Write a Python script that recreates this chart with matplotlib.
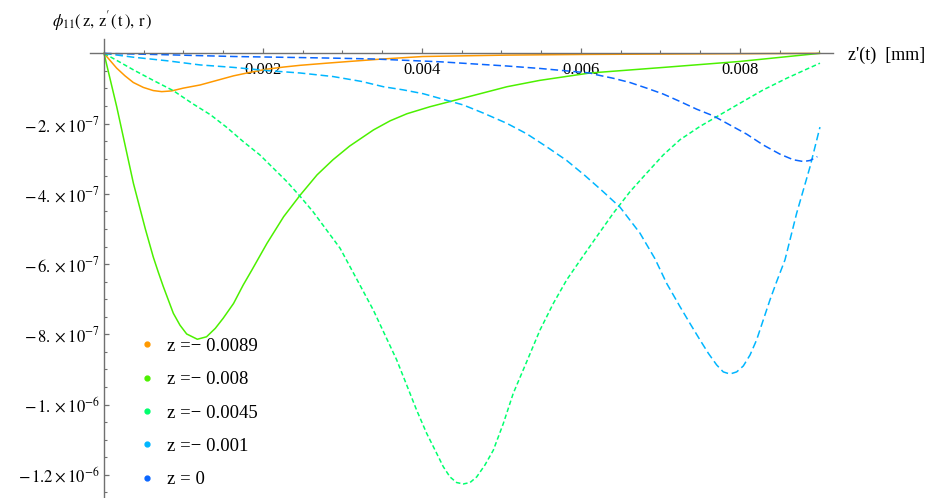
import numpy as np
import matplotlib
matplotlib.use('Agg')
import matplotlib.pyplot as plt
from matplotlib.lines import Line2D
from matplotlib.ticker import MultipleLocator, FixedLocator, FixedFormatter
import matplotlib.transforms as mtransforms

plt.rcParams['font.family'] = 'serif'
plt.rcParams['font.serif'] = ['Liberation Serif', 'DejaVu Serif']
plt.rcParams['mathtext.fontset'] = 'stix'

# phi_11 along z'(t) for each observation point z (values in units of 1e-7)
z_values = ['-0.0089', '-0.008', '-0.0045', '-0.001', '0']
colors = ['#ff9900', '#4cf000', '#00ff6e', '#00b6ff', '#0a66ff']

x_orange = [0, 0.0000755, 0.000159, 0.000264, 0.000369, 0.000495, 0.00062, 0.000726, 0.00085, 0.000998,
            0.00121, 0.00142, 0.00163, 0.00184, 0.00205, 0.00226, 0.00247, 0.0028, 0.00309, 0.00351,
            0.00401, 0.00507, 0.00611, 0.0075, 0.009]
y_orange = [0, -0.20, -0.42, -0.64, -0.83, -0.97, -1.06, -1.09, -1.07, -0.99,
            -0.90, -0.77, -0.64, -0.54, -0.45, -0.39, -0.34, -0.28, -0.23, -0.16,
            -0.09, -0.05, -0.03, -0.015, 0]

x_green = [0, 0.00016, 0.00037, 0.00052, 0.00062, 0.000683, 0.000746, 0.000809, 0.000872, 0.000956,
           0.00104, 0.001174, 0.00129, 0.0014, 0.0015, 0.00163, 0.00175, 0.00186, 0.00205, 0.00226,
           0.00247, 0.00268, 0.00288, 0.00309, 0.00339, 0.0036, 0.00381, 0.0041, 0.00439, 0.00473,
           0.00507, 0.00548, 0.00611, 0.00704, 0.008, 0.009]
y_green = [0, -1.52, -3.70, -5.00, -5.80, -6.23, -6.64, -7.02, -7.40, -7.74,
           -7.99, -8.14, -8.07, -7.83, -7.54, -7.12, -6.60, -6.17, -5.41, -4.65,
           -4.03, -3.46, -3.03, -2.64, -2.18, -1.92, -1.72, -1.52, -1.35, -1.15,
           -0.95, -0.77, -0.56, -0.40, -0.23, 0]

x_spring = [0, 0.00016, 0.00037, 0.00062, 0.00087, 0.00112, 0.00134, 0.00154, 0.00175, 0.00196,
            0.00213, 0.0023, 0.00247, 0.00263, 0.0028, 0.00297, 0.00322, 0.003388, 0.003535, 0.003682,
            0.003807, 0.003933, 0.004059, 0.004185, 0.004268, 0.004352, 0.004436, 0.00452, 0.004604, 0.004688,
            0.004792, 0.004897, 0.005023, 0.005148, 0.005317, 0.005484, 0.005652, 0.00582, 0.005987, 0.006197,
            0.006407, 0.006616, 0.006826, 0.007036, 0.007245, 0.007497, 0.007748, 0.008, 0.008293, 0.008587,
            0.008839, 0.009006]
y_spring = [0, -0.20, -0.47, -0.77, -1.06, -1.44, -1.75, -2.10, -2.51, -2.89,
            -3.27, -3.65, -4.08, -4.51, -5.03, -5.55, -6.60, -7.31, -8.02, -8.73,
            -9.44, -10.16, -10.82, -11.39, -11.77, -12.06, -12.22, -12.26, -12.22, -12.06,
            -11.72, -11.30, -10.54, -9.68, -8.78, -7.88, -7.12, -6.45, -5.90, -5.22,
            -4.55, -3.94, -3.41, -2.89, -2.46, -2.08, -1.75, -1.42, -1.04, -0.71,
            -0.45, -0.28]

x_cyan = [0, 0.000369, 0.000789, 0.00121, 0.00163, 0.00205, 0.00247, 0.00288, 0.00324, 0.003514,
          0.003765, 0.004017, 0.004268, 0.00452, 0.004771, 0.005065, 0.005317, 0.005568, 0.00582, 0.00605,
          0.00627, 0.006491, 0.006742, 0.006931, 0.007078, 0.007245, 0.007371, 0.007497, 0.007602, 0.007706,
          0.00779, 0.007874, 0.007958, 0.008042, 0.008126, 0.008209, 0.008293, 0.008377, 0.008461, 0.008566,
          0.008713, 0.008881, 0.009006]
y_cyan = [0, -0.11, -0.21, -0.33, -0.40, -0.49, -0.56, -0.66, -0.80, -0.95,
          -1.04, -1.15, -1.31, -1.47, -1.70, -1.99, -2.29, -2.66, -3.05, -3.48,
          -3.92, -4.38, -5.12, -5.85, -6.55, -7.21, -7.69, -8.16, -8.54, -8.87,
          -9.07, -9.13, -9.07, -8.90, -8.59, -8.16, -7.59, -7.02, -6.50, -5.88,
          -4.55, -3.23, -2.10]

x_blue = [0, 0.000789, 0.00163, 0.00247, 0.002969, 0.003388, 0.003807, 0.004226, 0.004645, 0.005065,
          0.005484, 0.00582, 0.006113, 0.006197, 0.006407, 0.006616, 0.006826, 0.007036, 0.007245, 0.007455,
          0.007665, 0.007874, 0.008084, 0.008293, 0.008503, 0.008671, 0.008797, 0.008881, 0.008973]
y_blue = [0, -0.04, -0.09, -0.12, -0.14, -0.16, -0.20, -0.24, -0.30, -0.36,
          -0.43, -0.50, -0.56, -0.61, -0.71, -0.83, -0.99, -1.16, -1.37, -1.59,
          -1.78, -2.04, -2.30, -2.61, -2.87, -3.03, -3.08, -3.05, -2.94]

y_ticks = [-2e-7, -4e-7, -6e-7, -8e-7, -1e-6, -1.2e-6]
y_tick_labels = [r'$-\,2.\times10^{-7}$', r'$-\,4.\times10^{-7}$', r'$-\,6.\times10^{-7}$',
                 r'$-\,8.\times10^{-7}$', r'$-\,1.\times10^{-6}$', r'$-\,1.2\times10^{-6}$']
x_ticks = [0.002, 0.004, 0.006, 0.008]

series = [(x_orange, y_orange, '-', None),
          (x_green, y_green, '-', None),
          (x_spring, y_spring, '--', (3, 1.8)),
          (x_cyan, y_cyan, '--', (5, 2.5)),
          (x_blue, y_blue, '--', (5, 2.5))]

fig = plt.figure(figsize=(9.3, 4.98), dpi=100)
ax = fig.add_axes([90/930, 0, 743/930, 1 - 39.3/498])

for (x, y, ls, dash), c in zip(series, colors):
    line, = ax.plot(x, np.array(y)*1e-7, color=c, lw=1.1, ls=ls)
    if dash is not None:
        line.set_dashes(dash)

ax.set_xlim(-0.000176, 0.00917)
ax.set_ylim(-1.266e-6, 0.4e-7)

axis_col = '#707070'
for side in ['top', 'right']:
    ax.spines[side].set_visible(False)
ax.spines['left'].set_position(('data', 0))
ax.spines['bottom'].set_position(('data', 0))
for side in ['left', 'bottom']:
    ax.spines[side].set_color(axis_col)
    ax.spines[side].set_linewidth(1.0)

ax.xaxis.set_major_locator(FixedLocator(x_ticks))
ax.xaxis.set_major_formatter(FixedFormatter([str(t) for t in x_ticks]))
ax.xaxis.set_minor_locator(MultipleLocator(0.0005))
ax.yaxis.set_major_locator(FixedLocator(y_ticks))
ax.yaxis.set_major_formatter(FixedFormatter(y_tick_labels))
ax.yaxis.set_minor_locator(MultipleLocator(5e-8))

ax.tick_params(axis='x', which='major', direction='in', length=3.5, width=0.9, color=axis_col, pad=6, labelsize=12)
ax.tick_params(axis='x', which='minor', direction='in', length=2, width=0.8, color=axis_col)
ax.tick_params(axis='y', which='major', direction='in', length=3.5, width=0.9, color=axis_col, pad=3, labelsize=12)
ax.tick_params(axis='y', which='minor', direction='in', length=2, width=0.8, color=axis_col)

# axis labels sit at the ends of the axes
trans = mtransforms.blended_transform_factory(ax.transAxes, ax.transData)
ax.text(1.02, -0.06e-7, "z'(t)  [mm]", transform=trans, ha='left', va='center', fontsize=13)
fig.text(52/930, 1 - 21/498, r"$\phi_{11}\mathrm{(\,z,\,z^{\prime}(\,t\,),\,r\,)}$",
         ha='left', va='center', fontsize=12)

handles = [Line2D([], [], marker='o', ls='none', color=c, markersize=3.5) for c in colors]
labels = ['z =\u2212 ' + v[1:] if v.startswith('-') else 'z = ' + v for v in z_values]
fig.legend(handles, labels, loc='upper left', bbox_to_anchor=(141.5/930, 1 - 337.5/498),
           frameon=False, fontsize=13.5, handlelength=0.6, handletextpad=0.75,
           labelspacing=0.87, borderpad=0, borderaxespad=0)

plt.savefig('out.png', dpi=100)
